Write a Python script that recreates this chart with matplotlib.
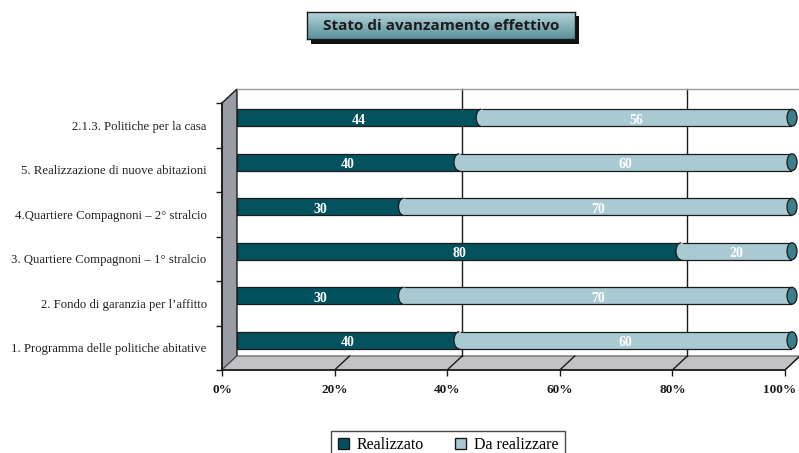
import matplotlib.pyplot as plt
import numpy as np
from matplotlib.patches import Ellipse, Arc, Polygon, Rectangle, Patch
from matplotlib.colors import LinearSegmentedColormap
from matplotlib.transforms import ScaledTranslation

categorie = ["1. Programma delle politiche abitative",
             "2. Fondo di garanzia per l’affitto",
             "3. Quartiere Compagnoni – 1° stralcio",
             "4.Quartiere Compagnoni – 2° stralcio",
             "5. Realizzazione di nuove abitazioni",
             "2.1.3. Politiche per la casa"]
realizzato = [40, 30, 80, 30, 40, 44]
da_realizzare = [60, 70, 20, 70, 60, 56]
percentuali = [0, 20, 40, 60, 80, 100]

SCURO = '#02525e'
CHIARO = '#a9c9d3'
TAPPO = '#3c7e8b'
BORDO = '#1a1a1a'
SERIF = 'Liberation Serif'

W, H = 799, 453
fig = plt.figure(figsize=(W / 100, H / 100), dpi=100)


def box(x0, y0, x1, y1):
    # rettangolo in pixel (origine in alto a sinistra) -> coordinate figura
    return [x0 / W, 1 - y1 / H, (x1 - x0) / W, (y1 - y0) / H]


# --- assi principali: pavimento e parete laterale in finto 3D ---
ax = fig.add_axes(box(222, 103, 785, 370))
ax.set_xlim(0, 100)
ax.set_ylim(0, 6)
ax.patch.set_alpha(0)
for s in ['top', 'right']:
    ax.spines[s].set_visible(False)
for s in ['left', 'bottom']:
    ax.spines[s].set_color(BORDO)
    ax.spines[s].set_linewidth(1.2)

n = len(categorie)
DX, DY = 2.66, 0.315  # profondita' in unita' dati

parete = Polygon([(0, 0), (0, n), (DX, n + DY), (DX, DY)], closed=True,
                 fc='#9a9ca5', ec=BORDO, lw=1, clip_on=False, zorder=1)
pavimento = Polygon([(0, 0), (100, 0), (100 + DX, DY), (DX, DY)], closed=True,
                    fc='#c2c2c6', ec='#555555', lw=0.8, clip_on=False, zorder=1)
ax.add_patch(parete)
ax.add_patch(pavimento)
for p in percentuali[1:]:
    ax.plot([p, p + DX], [0, DY], color=BORDO, lw=1, clip_on=False, zorder=1.5)
# bordo superiore e griglia sul fondo
ax.plot([DX, 100 + DX + 1], [n + DY, n + DY], color='#9a9aa0', lw=1, clip_on=False)
for p in [40, 80]:
    ax.plot([p + DX, p + DX], [DY, n + DY], color=BORDO, lw=1, clip_on=False, zorder=1.2)

ax.set_xticks(percentuali)
ax.set_xticklabels([f'{p}%' for p in percentuali], fontfamily=SERIF,
                   fontweight='bold', fontsize=9.5, color='#222222')
ax.tick_params(axis='x', length=4, width=1, pad=6, colors=BORDO)
# l'ultima etichetta un po' a sinistra per restare nel riquadro
ultima = ax.get_xticklabels()[-1]
ultima.set_transform(ultima.get_transform() + ScaledTranslation(-0.05, 0, fig.dpi_scale_trans))
ax.set_yticks(range(n + 1))
ax.set_yticklabels([])
ax.set_yticks(np.arange(n) + 0.5, minor=True)
ax.set_yticklabels(categorie, minor=True, fontfamily=SERIF, fontsize=9.2, color='#222222')
ax.tick_params(axis='y', which='major', length=4, width=1, colors=BORDO)
ax.tick_params(axis='y', which='minor', length=0, pad=11)

# --- barre cilindriche ---
ax2 = fig.add_axes(box(237, 95.5, 792, 362.5))
ax2.set_xlim(0, 100)
ax2.set_ylim(0, n)
ax2.axis('off')

h = 0.38
lw = 0.9
for i, (r, d) in enumerate(zip(realizzato, da_realizzare)):
    y = i + 0.5
    ax2.barh(y, d, left=r, height=h, color=CHIARO, edgecolor=BORDO, lw=lw, zorder=2)
    ax2.barh(y, r, height=h, color=SCURO, edgecolor=BORDO, lw=lw, zorder=3)
    ax2.add_patch(Ellipse((r, y), 1.8, h, fc=CHIARO, ec='none', zorder=4))
    ax2.add_patch(Arc((r, y), 1.8, h, theta1=90, theta2=270, color=BORDO, lw=lw, zorder=5))
    ax2.add_patch(Ellipse((r + d, y), 1.8, h, fc=TAPPO, ec=BORDO, lw=lw,
                          zorder=5, clip_on=False))
    ax2.text(r / 2, y - 0.06, str(r), ha='center', va='center', color='white',
             fontfamily=SERIF, fontweight='bold', fontsize=10, zorder=6)
    ax2.text(r + d / 2, y - 0.06, str(d), ha='center', va='center', color='white',
             fontfamily=SERIF, fontweight='bold', fontsize=10, zorder=6)

# --- titolo in riquadro sfumato con ombra ---
fig.add_artist(Rectangle((311 / W, 1 - 44 / H), 268 / W, 28 / H,
                         transform=fig.transFigure, fc='#111111', ec='none',
                         zorder=-1))
tax = fig.add_axes(box(307, 12, 575, 39))
sfumatura = LinearSegmentedColormap.from_list('sf', ['#b5d3da', '#5a919c'])
tax.imshow(np.linspace(0, 1, 64).reshape(-1, 1), cmap=sfumatura, aspect='auto',
           extent=[0, 1, 0, 1], origin='upper')
tax.set_xticks([])
tax.set_yticks([])
for s in tax.spines.values():
    s.set_color(BORDO)
    s.set_linewidth(1)
tax.text(0.5, 0.5, 'Stato di avanzamento effettivo', ha='center', va='center',
         fontfamily='Open Sans', fontweight='bold', fontsize=11, color='#1c1c1c',
         transform=tax.transAxes)

# --- legenda ---
maniglie = [Patch(fc=SCURO, ec=BORDO, lw=1), Patch(fc=CHIARO, ec=BORDO, lw=1)]
leg = fig.legend(maniglie, ['Realizzato', 'Da realizzare'], loc='upper center',
                 bbox_to_anchor=(448 / W, 1 - 431 / H), ncol=2, frameon=True,
                 fancybox=False, edgecolor=BORDO, prop={'family': SERIF, 'size': 11.5},
                 handlelength=0.7, handleheight=0.7, handletextpad=0.5,
                 columnspacing=1.9, borderpad=0.4, borderaxespad=0)
leg.get_frame().set_linewidth(1)

fig.savefig('out.png', dpi=100)
